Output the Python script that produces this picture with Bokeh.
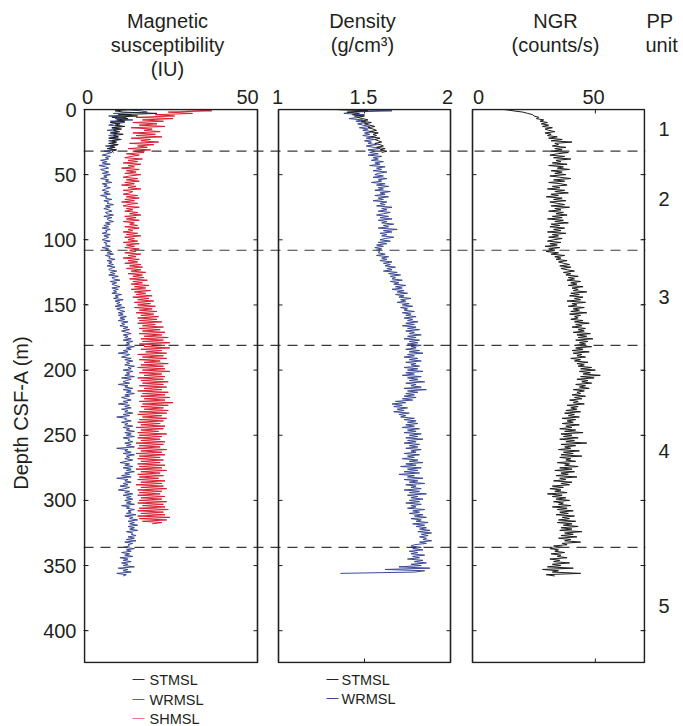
import numpy as np
from bokeh.plotting import figure
from bokeh.layouts import column, row
from bokeh.models import Range1d, LinearAxis, FixedTicker, Span, BoxAnnotation
from bokeh.core.properties import value
from bokeh.embed import file_html
from bokeh.resources import INLINE

# ---------------- data ----------------
# Magnetic susceptibility (IU), WRMSL, 1 m spacing from 0 m
ms_wrmsl = [
    12.0, 17.5, 19.5, 9.0, 14.5, 7.5, 13.0, 9.5, 15.0, 8.0,
    12.5, 9.0, 7.5, 11.5, 8.5, 10.5, 7.0, 11.0, 9.0, 10.0,
    7.5, 10.5, 8.0, 11.5, 7.5, 9.5, 8.5, 10.0, 6.5, 9.0,
    7.5, 9.5, 6.0, 8.5, 7.0, 5.5, 8.0, 6.5, 7.5, 5.0,
    7.0, 5.5, 8.0, 4.5, 6.5, 7.5, 5.0, 6.0, 7.5, 5.5,
    8.0, 6.0, 7.0, 5.0, 7.5, 6.5, 8.5, 5.5, 7.0, 6.0,
    8.0, 6.5, 5.5, 7.5, 6.0, 8.0, 5.0, 7.0, 6.5, 8.5,
    6.0, 7.5, 7.0, 9.0, 6.5, 8.0, 6.0, 7.5, 8.5, 6.5,
    7.0, 9.0, 6.0, 8.5, 7.0, 7.5, 9.0, 6.5, 8.0, 6.0,
    7.5, 5.5, 8.0, 6.5, 7.0, 5.5, 8.0, 6.0, 7.5, 6.5,
    5.5, 8.0, 6.0, 7.0, 6.5, 8.0, 5.5, 7.5, 6.5, 8.5,
    7.0, 9.0, 6.5, 8.0, 7.5, 9.5, 7.0, 8.5, 7.5, 9.0,
    7.0, 9.5, 8.0, 7.5, 10.0, 8.0, 9.5, 7.5, 10.5, 8.5,
    9.0, 11.0, 8.0, 10.0, 8.5, 9.5, 11.0, 8.5, 10.5, 9.0,
    10.0, 8.5, 11.5, 9.5, 10.5, 9.0, 12.0, 9.5, 11.0, 10.0,
    11.5, 9.5, 12.5, 10.0, 11.0, 12.5, 10.5, 12.0, 10.5, 13.0,
    11.0, 12.5, 10.5, 13.5, 11.5, 12.5, 11.0, 13.5, 12.0, 14.0,
    11.5, 13.0, 14.5, 12.0, 13.5, 12.5, 14.5, 12.0, 15.0, 13.0,
    14.0, 12.5, 15.5, 13.0, 14.5, 12.0, 13.5, 10.5, 14.0, 13.0,
    11.5, 14.5, 12.5, 15.0, 13.0, 14.0, 12.5, 15.5, 13.5, 14.5,
    12.0, 15.0, 13.0, 14.0, 12.5, 15.5, 11.5, 14.5, 13.0, 12.0,
    14.0, 10.5, 13.5, 12.5, 15.0, 12.0, 14.5, 13.0, 15.5, 12.5,
    14.0, 11.5, 13.0, 14.5, 12.0, 13.5, 10.5, 14.0, 12.5, 14.5,
    11.5, 13.5, 12.5, 15.0, 12.0, 14.0, 10.0, 13.0, 12.5, 14.5,
    11.5, 13.5, 12.5, 15.0, 12.0, 14.0, 13.0, 15.5, 12.5, 14.5,
    13.0, 15.5, 12.0, 14.0, 13.5, 15.0, 12.5, 14.5, 13.0, 15.5,
    10.0, 13.5, 12.5, 14.5, 12.0, 15.5, 13.0, 14.0, 12.5, 15.0,
    13.0, 11.0, 14.0, 12.5, 15.0, 12.0, 14.5, 13.0, 15.5, 12.5,
    14.0, 11.5, 14.5, 10.0, 13.5, 12.5, 14.5, 12.0, 13.5, 11.0,
    14.0, 12.5, 10.5, 14.0, 12.5, 15.0, 12.0, 14.5, 13.0, 15.0,
    12.5, 14.5, 13.0, 15.5, 11.5, 14.0, 13.0, 15.5, 13.5, 14.5,
    13.0, 16.0, 12.5, 15.0, 14.0, 16.5, 13.5, 15.5, 14.0, 16.5,
    13.5, 15.5, 14.0, 16.5, 13.0, 15.0, 14.5, 16.0, 13.5, 15.5,
    13.0, 16.0, 12.5, 15.0, 13.5, 14.0, 12.0, 15.5, 13.0, 14.5,
    11.5, 14.0, 12.5, 15.0, 11.0, 13.5, 12.0, 14.5, 11.5, 13.5,
    12.0, 15.5, 10.5, 13.5, 12.0, 14.5, 10.0, 13.0, 12.0,
]
# Magnetic susceptibility (IU), SHMSL, 1 m spacing from 0 m
ms_shmsl = [
    30.0, 39.5, 26.0, 33.5, 22.0, 28.0, 16.0, 27.5, 18.0, 24.5,
    15.0, 22.5, 17.0, 25.0, 14.5, 21.0, 18.5, 23.5, 15.0, 22.0,
    16.0, 24.0, 14.5, 20.5, 17.5, 23.0, 14.0, 21.5, 16.5, 19.5,
    13.5, 20.5, 15.0, 18.5, 13.0, 17.0, 14.5, 12.5, 18.0, 13.5,
    16.5, 12.0, 17.5, 13.5, 15.5, 11.5, 17.0, 13.0, 16.0, 12.5,
    17.5, 14.0, 12.0, 16.5, 13.0, 17.0, 12.5, 15.5, 11.5, 16.0,
    13.5, 17.5, 12.0, 15.0, 14.0, 12.0, 16.5, 13.0, 17.0, 12.5,
    15.5, 11.5, 16.5, 13.5, 12.0, 17.0, 13.0, 15.0, 12.5, 16.5,
    14.0, 17.5, 12.5, 16.0, 13.0, 17.0, 12.0, 15.5, 14.0, 16.5,
    12.5, 17.0, 13.5, 15.0, 12.0, 16.5, 13.0, 17.5, 12.5, 15.5,
    13.5, 16.5, 12.0, 17.0, 13.0, 15.5, 12.5, 17.0, 14.0, 16.0,
    12.5, 17.5, 13.5, 16.0, 12.0, 17.0, 13.5, 16.5, 12.5, 17.5,
    14.0, 18.0, 13.0, 17.5, 14.5, 19.0, 13.5, 18.0, 15.0, 18.5,
    14.0, 19.5, 15.0, 18.0, 14.5, 20.0, 15.5, 19.0, 14.5, 20.5,
    15.5, 19.0, 16.0, 21.0, 15.0, 20.0, 16.5, 21.5, 15.5, 20.5,
    16.5, 22.0, 15.5, 21.0, 17.0, 22.5, 16.0, 21.5, 17.5, 23.0,
    16.5, 22.5, 17.0, 24.0, 16.5, 22.0, 18.0, 24.5, 17.0, 23.5,
    18.0, 25.0, 17.0, 24.0, 18.5, 26.0, 17.5, 24.5, 18.0, 26.5,
    17.0, 25.0, 18.5, 26.5, 17.5, 24.0, 19.0, 25.5, 16.5, 24.5,
    18.0, 25.5, 17.0, 23.5, 18.5, 26.0, 17.5, 24.5, 16.5, 25.0,
    18.0, 26.5, 17.0, 24.0, 18.5, 25.0, 16.5, 24.5, 17.5, 26.0,
    18.0, 24.5, 17.0, 25.5, 18.5, 24.0, 16.5, 26.0, 18.0, 25.0,
    17.5, 26.5, 18.5, 25.0, 17.0, 27.5, 18.0, 26.0, 17.5, 24.5,
    18.5, 26.0, 17.0, 25.5, 16.5, 24.0, 18.0, 25.5, 17.0, 24.5,
    16.5, 23.5, 17.5, 25.0, 16.0, 24.5, 17.5, 23.0, 16.5, 25.5,
    17.0, 24.0, 16.5, 23.5, 17.5, 25.0, 16.0, 24.5, 17.0, 23.5,
    16.5, 25.5, 17.5, 24.0, 16.0, 25.0, 17.0, 23.5, 16.5, 24.5,
    17.5, 23.5, 16.5, 25.0, 17.0, 24.0, 16.0, 25.5, 17.5, 23.5,
    16.5, 24.5, 17.0, 23.0, 16.5, 25.0, 17.5, 24.0, 16.0, 24.5,
    17.5, 25.5, 16.5, 24.0, 17.0, 23.5, 16.5, 25.0, 17.5, 24.0,
    17.0, 25.5, 16.5, 24.5, 18.0, 25.0, 17.0, 26.0, 16.5, 24.5,
    17.5, 25.0, 16.5, 26.5, 17.0, 25.5, 18.0, 24.0, 21.0,
]
# Magnetic susceptibility (IU), STMSL, 1 m spacing from 0 m
ms_stmsl = [14.0, 9.5, 12.0, 22.5, 10.5, 16.5, 8.5, 13.5, 10.0, 12.5, 8.0, 11.0,
            9.5, 12.5, 8.5, 11.5, 9.0, 10.5, 8.0, 12.0, 9.0, 10.5, 7.5, 11.0,
            8.5, 10.0, 7.5, 10.5, 8.0, 9.5, 7.0, 10.0, 8.5, 9.0]

# Density (g/cm3), WRMSL, 1 m spacing from 0 m
den_wrmsl = [
    1.35, 1.66, 1.42, 1.38, 1.50, 1.44, 1.47, 1.41, 1.49, 1.45,
    1.51, 1.46, 1.49, 1.53, 1.47, 1.52, 1.49, 1.55, 1.50, 1.53,
    1.49, 1.55, 1.51, 1.56, 1.50, 1.54, 1.52, 1.57, 1.51, 1.55,
    1.59, 1.52, 1.56, 1.53, 1.58, 1.52, 1.60, 1.55, 1.58, 1.54,
    1.61, 1.56, 1.59, 1.53, 1.62, 1.57, 1.60, 1.55, 1.63, 1.58,
    1.56, 1.61, 1.55, 1.63, 1.58, 1.60, 1.54, 1.62, 1.57, 1.64,
    1.58, 1.61, 1.56, 1.65, 1.59, 1.62, 1.56, 1.64, 1.58, 1.61,
    1.55, 1.63, 1.59, 1.62, 1.57, 1.66, 1.60, 1.63, 1.58, 1.65,
    1.61, 1.57, 1.64, 1.59, 1.66, 1.58, 1.63, 1.60, 1.67, 1.61,
    1.64, 1.58, 1.69, 1.61, 1.66, 1.59, 1.63, 1.60, 1.67, 1.62,
    1.59, 1.65, 1.58, 1.63, 1.57, 1.61, 1.56, 1.60, 1.57, 1.59,
    1.58, 1.62, 1.57, 1.64, 1.60, 1.63, 1.59, 1.66, 1.61, 1.65,
    1.62, 1.68, 1.63, 1.66, 1.61, 1.69, 1.64, 1.71, 1.65, 1.68,
    1.66, 1.72, 1.65, 1.70, 1.67, 1.74, 1.68, 1.72, 1.66, 1.73,
    1.69, 1.75, 1.68, 1.73, 1.70, 1.77, 1.71, 1.74, 1.69, 1.76,
    1.72, 1.78, 1.71, 1.75, 1.73, 1.79, 1.72, 1.77, 1.74, 1.80,
    1.73, 1.78, 1.75, 1.81, 1.74, 1.79, 1.72, 1.80, 1.75, 1.82,
    1.74, 1.79, 1.76, 1.83, 1.75, 1.80, 1.73, 1.82, 1.76, 1.81,
    1.75, 1.83, 1.77, 1.80, 1.74, 1.82, 1.76, 1.84, 1.75, 1.79,
    1.73, 1.81, 1.76, 1.83, 1.74, 1.80, 1.77, 1.82, 1.73, 1.81,
    1.75, 1.84, 1.74, 1.79, 1.72, 1.83, 1.75, 1.81, 1.76, 1.85,
    1.74, 1.80, 1.77, 1.83, 1.73, 1.86, 1.75, 1.81, 1.74, 1.79,
    1.73, 1.80, 1.72, 1.78, 1.68, 1.74, 1.66, 1.72, 1.67, 1.75,
    1.69, 1.73, 1.67, 1.76, 1.70, 1.74, 1.71, 1.79, 1.73, 1.80,
    1.75, 1.81, 1.74, 1.79, 1.72, 1.82, 1.75, 1.80, 1.73, 1.83,
    1.76, 1.81, 1.74, 1.84, 1.75, 1.80, 1.73, 1.82, 1.76, 1.81,
    1.74, 1.83, 1.77, 1.80, 1.73, 1.82, 1.75, 1.79, 1.72, 1.81,
    1.76, 1.84, 1.74, 1.80, 1.71, 1.83, 1.75, 1.81, 1.73, 1.82,
    1.70, 1.79, 1.75, 1.84, 1.73, 1.81, 1.76, 1.85, 1.74, 1.80,
    1.77, 1.83, 1.73, 1.82, 1.76, 1.86, 1.75, 1.81, 1.77, 1.84,
    1.76, 1.82, 1.74, 1.83, 1.77, 1.80, 1.75, 1.85, 1.78, 1.82,
    1.76, 1.84, 1.79, 1.86, 1.77, 1.83, 1.80, 1.87, 1.78, 1.85,
    1.80, 1.86, 1.82, 1.88, 1.81, 1.89, 1.83, 1.87, 1.82, 1.86,
    1.84, 1.89, 1.82, 1.86, 1.79, 1.77, 1.83, 1.78, 1.84, 1.76,
    1.81, 1.77, 1.85, 1.78, 1.82, 1.75, 1.84, 1.79, 1.86, 1.77,
    1.83, 1.70, 1.88, 1.62, 1.85, 1.79, 1.36,
]
# Density (g/cm3), STMSL, 1 m spacing from 0 m
den_stmsl = [1.33, 1.52, 1.40, 1.47, 1.43, 1.50, 1.46, 1.49, 1.52, 1.48, 1.54, 1.50,
             1.53, 1.56, 1.52, 1.55, 1.57, 1.53, 1.58, 1.55, 1.57, 1.54, 1.59, 1.56,
             1.58, 1.60, 1.56, 1.59, 1.61, 1.57, 1.62, 1.59, 1.63, 1.60]

# NGR (counts/s), 1 m spacing from 0 m
ngr = [
    13.0, 16.5, 20.5, 22.5, 24.5, 25.0, 27.0, 26.0, 29.0, 27.5,
    30.5, 28.0, 31.0, 28.5, 32.5, 29.5, 31.0, 33.5, 29.5, 32.0,
    30.5, 34.5, 31.0, 36.5, 32.0, 40.5, 33.5, 35.0, 32.5, 38.0,
    33.5, 36.5, 32.0, 39.0, 34.5, 31.5, 37.5, 33.0, 40.0, 34.0,
    36.0, 32.5, 38.5, 31.0, 37.0, 34.5, 39.5, 32.0, 36.5, 33.5,
    38.0, 31.5, 35.5, 40.0, 33.0, 37.5, 31.0, 36.0, 38.5, 32.5,
    35.5, 30.5, 37.5, 33.5, 39.0, 32.0, 35.0, 30.0, 36.5, 33.0,
    38.0, 31.5, 34.5, 37.5, 32.0, 39.5, 33.5, 36.0, 31.0, 37.0,
    34.0, 38.5, 32.5, 36.5, 30.5, 37.0, 33.5, 39.0, 32.0, 35.5,
    31.5, 37.5, 33.0, 36.0, 30.5, 38.0, 32.5, 35.0, 31.0, 36.5,
    33.0, 30.5, 36.0, 31.5, 34.5, 29.5, 35.5, 31.0, 33.5, 30.0,
    35.0, 32.0, 37.5, 33.5, 36.0, 34.0, 38.5, 35.0, 37.0, 39.5,
    35.5, 40.0, 36.0, 38.5, 41.5, 37.0, 40.0, 38.0, 43.0, 39.0,
    41.5, 38.5, 44.0, 40.0, 42.5, 39.0, 45.0, 40.5, 43.0, 41.0,
    46.5, 40.0, 43.5, 39.5, 45.0, 41.5, 44.0, 38.5, 46.0, 40.5,
    42.5, 39.0, 45.5, 41.0, 43.5, 40.0, 46.5, 39.5, 44.0, 41.5,
    43.0, 40.0, 45.0, 41.5, 47.5, 42.0, 44.5, 40.5, 46.0, 43.0,
    45.5, 41.0, 48.0, 42.5, 46.5, 43.0, 49.0, 42.0, 47.0, 43.5,
    46.0, 41.5, 48.5, 42.0, 45.0, 40.5, 47.5, 41.0, 44.5, 42.5,
    46.0, 40.0, 44.0, 41.5, 47.0, 42.5, 45.5, 43.0, 48.5, 44.0,
    50.0, 43.5, 48.0, 45.0, 52.0, 44.0, 49.5, 42.5, 47.0, 44.5,
    48.5, 42.0, 46.0, 43.5, 47.5, 41.0, 45.5, 42.5, 44.0, 40.5,
    46.0, 41.5, 44.5, 39.5, 43.0, 41.0, 45.5, 38.5, 43.0, 40.0,
    42.5, 38.0, 44.0, 37.5, 41.5, 39.0, 43.5, 36.5, 42.0, 38.5,
    41.0, 36.5, 43.5, 38.0, 40.5, 35.5, 42.0, 37.5, 45.0, 36.0,
    40.5, 37.0, 43.0, 35.5, 41.5, 38.0, 46.5, 36.0, 42.0, 37.5,
    40.0, 35.0, 43.5, 37.0, 41.0, 36.0, 44.5, 35.5, 40.0, 38.0,
    42.0, 34.5, 39.5, 37.5, 43.0, 35.5, 40.5, 33.5, 41.5, 36.0,
    39.0, 34.0, 42.5, 35.5, 38.0, 33.0, 40.5, 36.0, 39.5, 32.5,
    37.0, 31.5, 36.0, 33.5, 38.5, 30.5, 36.5, 32.5, 38.0, 34.0,
    39.5, 33.0, 37.0, 35.0, 40.0, 32.5, 38.5, 34.5, 41.0, 35.5,
    39.0, 34.0, 41.5, 36.5, 39.5, 35.0, 42.0, 34.5, 40.5, 37.0,
    43.0, 36.0, 40.5, 35.5, 44.5, 37.5, 41.0, 36.0, 42.5, 35.0,
    40.0, 37.5, 44.0, 36.5, 38.5, 33.0, 36.5, 31.5, 35.0, 33.5,
    37.5, 32.0, 36.0, 34.5, 38.5, 31.5, 35.5, 33.0, 39.5, 32.5,
    36.0, 30.5, 41.0, 28.5, 35.0, 32.5, 44.0, 30.0, 33.5,
]

sample_step = 1.0                              # m between readings
unit_boundaries = [32, 108, 181, 336]          # m (dashed lines)
pp_units = ["1", "2", "3", "4", "5"]
pp_unit_depths = [15, 69, 144, 262, 381]       # m (label positions)
depth_ticks = [0, 50, 100, 150, 200, 250, 300, 350, 400]
legend_ms = ["STMSL", "WRMSL", "SHMSL"]
legend_den = ["STMSL", "WRMSL"]

# ---------------- colours / fonts ----------------
BLACK = "#1e1e1e"
BLUE = "#3b4a92"
RED = "#d81e30"
TXT = "#231f20"
FONT = "Liberation Sans"

# ---------------- layout constants (canvas px) ----------------
W, H = 683, 726
HEAD_H = 80          # header strip
LEFT_W = 40          # strip holding the rotated depth title
LEG_H = 60           # legend strip
MAIN_H = H - HEAD_H - LEG_H
FRAME_L, FRAME_R, FRAME_T, FRAME_B = 83, 645, 108, 663
PXM = 553 / 424.4    # px per metre
Y_TOP = -(109 - FRAME_T) / PXM
Y_BOT = 424.4 + (FRAME_B - 662) / PXM

# panel extents (px from canvas x=84)
P1 = (0, 173)
P2 = (194, 366)
P3 = (388, 560)
X0F, X1F = FRAME_L - 84, FRAME_R - 84
MS_LIM = (0, 53.7)
DEN_LIM = (1, 2)
NGR_LIM = (0, 70)


def panel_range(lim, ext):
    a, b = lim
    x0, x1 = ext
    k = (b - a) / (x1 - x0)
    return Range1d(start=a + (X0F - x0) * k, end=a + (X1F - x0) * k)


def strip(width, height):
    f = figure(width=width, height=height, x_range=Range1d(0, width),
               y_range=Range1d(0, height), output_backend="svg", toolbar_location=None,
               min_border=0, x_axis_type=None, y_axis_type=None, title=None)
    f.outline_line_color = None
    f.grid.visible = False
    return f


# ---------------- main plot ----------------
p = figure(width=W - LEFT_W, height=MAIN_H, x_range=Range1d(X0F, X1F),
           y_range=Range1d(Y_BOT, Y_TOP), output_backend="svg", toolbar_location=None,
           x_axis_location="above", title=None,
           min_border_left=FRAME_L - LEFT_W, min_border_right=W - FRAME_R,
           min_border_top=FRAME_T - HEAD_H, min_border_bottom=HEAD_H + MAIN_H - FRAME_B)
p.extra_x_ranges = {"ms": panel_range(MS_LIM, P1),
                    "den": panel_range(DEN_LIM, P2),
                    "ngr": panel_range(NGR_LIM, P3)}
p.outline_line_color = None
p.grid.visible = False

# top tick labels (positions in panel px)
top_pos = [3, 163, 193, 279, 363, 394, 509]
top_txt = ["0", "50", "1", "1.5", "2", "0", "50"]
xa = p.xaxis[0]
xa.ticker = FixedTicker(ticks=top_pos)
xa.major_label_overrides = {k: v for k, v in zip(top_pos, top_txt)}
xa.major_tick_in = 0
xa.major_tick_out = 0
xa.minor_tick_line_color = None
xa.axis_line_color = None
xa.major_label_text_font = FONT
xa.major_label_text_font_size = "20px"
xa.major_label_text_color = TXT
xa.major_label_standoff = 5

ya = p.yaxis[0]
ya.ticker = FixedTicker(ticks=depth_ticks)
ya.major_tick_in = 4
ya.major_tick_out = 0
ya.minor_tick_line_color = None
ya.axis_line_color = None
ya.major_tick_line_color = TXT
ya.major_label_text_font = FONT
ya.major_label_text_font_size = "20px"
ya.major_label_text_color = TXT
ya.major_label_standoff = 7

# right axis: inward depth ticks + PP unit labels
yr = LinearAxis(ticker=FixedTicker(ticks=pp_unit_depths, minor_ticks=depth_ticks[1:]),
                major_label_overrides={k: v for k, v in zip(pp_unit_depths, pp_units)},
                major_tick_in=0, major_tick_out=0,
                minor_tick_in=4, minor_tick_out=0, minor_tick_line_color=TXT,
                axis_line_color=None, major_label_standoff=13,
                major_label_text_font=FONT, major_label_text_font_size="20px",
                major_label_text_color=TXT)
p.add_layout(yr, "right")

# inner y ticks on panel edges
tick_d = depth_ticks[1:]
for edge, sgn in [(P1[0], 1), (P1[1], -1), (P2[0], 1), (P2[1], -1), (P3[0], 1), (P3[1], -1)]:
    p.segment(x0=[edge] * len(tick_d), x1=[edge + sgn * 4] * len(tick_d),
              y0=tick_d, y1=tick_d, line_color=TXT, line_width=1)

# x ticks (inward) for density 1.5 and NGR 50
tl = 4 / PXM
for rng, val in [("den", 1.5), ("ngr", 50)]:
    p.segment(x0=[val, val], x1=[val, val], y0=[0, 424.4], y1=[tl, 424.4 - tl],
              line_color=TXT, line_width=1, x_range_name=rng)

# unit boundary dashed lines
for d in unit_boundaries:
    p.add_layout(Span(location=d, dimension="width", line_color="#3a3a3a",
                      line_dash="10 7", line_width=1.2))

# data
depth = lambda arr: np.arange(len(arr)) * sample_step

p.line(ms_wrmsl, depth(ms_wrmsl), line_color=BLUE, line_width=1, x_range_name="ms")
p.line(ms_stmsl, depth(ms_stmsl), line_color=BLACK, line_width=1, x_range_name="ms")
p.line(ms_shmsl, depth(ms_shmsl), line_color=RED, line_width=1, x_range_name="ms")
p.line(den_wrmsl, depth(den_wrmsl), line_color=BLUE, line_width=1, x_range_name="den")
p.line(den_stmsl, depth(den_stmsl), line_color=BLACK, line_width=1, x_range_name="den")
p.line(ngr, depth(ngr), line_color=BLACK, line_width=1, x_range_name="ngr")

# panel frames
for ext in (P1, P2, P3):
    p.add_layout(BoxAnnotation(left=ext[0], right=ext[1], top=0, bottom=424.4,
                               fill_alpha=0, fill_color=None, line_color=TXT,
                               line_alpha=1, line_width=1.6))

# ---------------- header strip ----------------
hd = strip(W, HEAD_H)
hy = lambda cy: HEAD_H - cy
hd_txt = ["Magnetic", "susceptibility", "(IU)", "Density", "(g/cm³)", "NGR", "(counts/s)"]
hd_x = [167, 167, 167, 362, 362, 555, 555]
hd_y = [20, 44.5, 68, 20, 44.5, 20, 44.5]
hd.text(x=hd_x, y=[hy(v) for v in hd_y], text=hd_txt, text_font=value(FONT),
        text_font_size=value("20px"), text_align="center", text_baseline="middle",
        text_color=TXT)
hd.text(x=[646, 645], y=[hy(20), hy(44.5)], text=["PP", "unit"], text_font=value(FONT),
        text_font_size=value("20px"), text_align="left", text_baseline="middle",
        text_color=TXT)

# ---------------- left strip (depth title) ----------------
lf = strip(LEFT_W, MAIN_H)
lf.text(x=[20], y=[HEAD_H + MAIN_H - 401], text=["Depth CSF-A (m)"], angle=np.pi / 2,
        text_font=value(FONT), text_font_size=value("20px"), text_align="center",
        text_baseline="middle", text_color=TXT)

# ---------------- legend strip ----------------
lg = strip(W, LEG_H)
ly = lambda cy: H - cy
ms_cols = ["#333333", "#5662a6", "#ee7884"]
ms_rows = [679, 699, 718]
for name, col, cy in zip(legend_ms, ms_cols, ms_rows):
    lg.segment(x0=[132], x1=[144], y0=[ly(cy)], y1=[ly(cy)], line_color=col, line_width=1.2)
    lg.text(x=[149], y=[ly(cy)], text=[name], text_font=value(FONT),
            text_font_size=value("14.5px"), text_align="left", text_baseline="middle",
            text_color=TXT)
den_cols = ["#222222", "#3b4a92"]
den_rows = [679, 698]
for name, col, cy in zip(legend_den, den_cols, den_rows):
    lg.segment(x0=[326], x1=[338], y0=[ly(cy)], y1=[ly(cy)], line_color=col, line_width=1.2)
    lg.text(x=[341], y=[ly(cy)], text=[name], text_font=value(FONT),
            text_font_size=value("14.5px"), text_align="left", text_baseline="middle",
            text_color=TXT)

layout = column(hd, row(lf, p), lg)
open("out.html", "w").write(file_html(layout, INLINE))
